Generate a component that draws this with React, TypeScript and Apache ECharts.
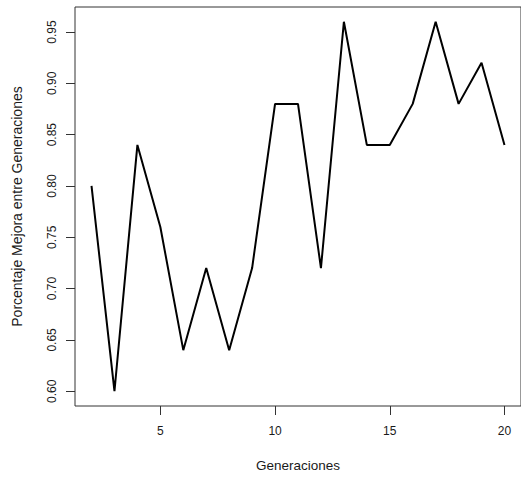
import React, { useEffect, useRef } from "react";
import * as echarts from "echarts";

const generations = [2, 3, 4, 5, 6, 7, 8, 9, 10, 11, 12, 13, 14, 15, 16, 17, 18, 19, 20];
const improvement = [0.80, 0.60, 0.84, 0.76, 0.64, 0.72, 0.64, 0.72, 0.88, 0.88, 0.72, 0.96, 0.84, 0.84, 0.88, 0.96, 0.88, 0.92, 0.84];
const xTicks = [5, 10, 15, 20];
const yTicks = [0.60, 0.65, 0.70, 0.75, 0.80, 0.85, 0.90, 0.95];
const xTitle = "Generaciones";
const yTitle = "Porcentaje Mejora entre Generaciones";

export default function App() {
  const ref = useRef<HTMLDivElement>(null);
  useEffect(() => {
    if (!ref.current) return;
    const chart = echarts.init(ref.current, null, { renderer: "svg" });
    const xMin = Math.min(...generations);
    const xMax = Math.max(...generations);
    const yMin = Math.min(...improvement);
    const yMax = Math.max(...improvement);
    const xPad = (xMax - xMin) * 0.04;
    const yPad = (yMax - yMin) * 0.04;
    const font = "Liberation Sans, Arial, sans-serif";
    chart.setOption({
      animation: false,
      backgroundColor: "#ffffff",
      grid: {
        left: 75,
        top: 7,
        width: 450,
        height: 399,
        show: true,
        borderColor: "#333333",
        borderWidth: 1,
        backgroundColor: "transparent",
      },
      xAxis: {
        type: "value",
        min: xMin - xPad,
        max: xMax + xPad,
        name: xTitle,
        nameLocation: "middle",
        nameGap: 52,
        nameTextStyle: { color: "#1a1a1a", fontSize: 13.5, fontFamily: font },
        axisLine: { show: false },
        splitLine: { show: false },
        axisTick: {
          show: true,
          inside: false,
          length: 9,
          customValues: xTicks,
          lineStyle: { color: "#333333", width: 1 },
        },
        axisLabel: {
          show: true,
          margin: 19,
          customValues: xTicks,
          color: "#1a1a1a",
          fontSize: 12,
          fontFamily: font,
          formatter: (v: number) => String(v),
        },
      },
      yAxis: {
        type: "value",
        min: yMin - yPad,
        max: yMax + yPad,
        name: yTitle,
        nameLocation: "middle",
        nameGap: 51,
        nameTextStyle: { color: "#1a1a1a", fontSize: 14, fontFamily: font },
        axisLine: { show: false },
        splitLine: { show: false },
        axisTick: {
          show: true,
          inside: false,
          length: 9,
          customValues: yTicks,
          lineStyle: { color: "#333333", width: 1 },
        },
        axisLabel: {
          show: true,
          rotate: 90,
          margin: 17,
          customValues: yTicks,
          color: "#1a1a1a",
          fontSize: 12,
          fontFamily: font,
          formatter: (v: number) => v.toFixed(2),
        },
      },
      series: [
        {
          type: "line",
          data: generations.map((g, i) => [g, improvement[i]]),
          showSymbol: false,
          symbol: "none",
          lineStyle: { color: "#000000", width: 2 },
          clip: false,
        },
      ],
    });
    return () => chart.dispose();
  }, []);
  return (
    <div
      ref={ref}
      style={{ position: "fixed", left: 0, top: 0, width: 521, height: 478, background: "#fff" }}
    />
  );
}
